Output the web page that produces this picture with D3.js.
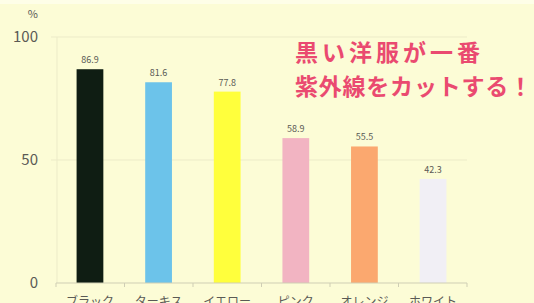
<!DOCTYPE html>
<html>
<head>
<meta charset="utf-8">
<script src="https://cdn.jsdelivr.net/npm/d3@7"></script>
<style>
  body { margin: 0; background: #fcfcd6; overflow: hidden; }
  text { font-family: "Noto Sans CJK JP", "Noto Sans", sans-serif; }
</style>
</head>
<body>
<div id="grafico"></div>
<script>
const ANCHO = 534;
const ALTO = 303;

const categorias = ["ブラック", "ターキス", "イエロー", "ピンク", "オレンジ", "ホワイト"];
const valores = [86.9, 81.6, 77.8, 58.9, 55.5, 42.3];
const etiquetas = ["86.9", "81.6", "77.8", "58.9", "55.5", "42.3"];
const colores = ["#0f1d13", "#6cc3ea", "#ffff3c", "#f2b4c2", "#fba86f", "#f1eff5"];
const ticksY = [0, 50, 100];
const mensaje = ["黒い洋服が一番", "紫外線をカットする！"];

const margen = { izq: 56, der: 67, arriba: 37, abajo: 20 };

const $svg = d3.select("#grafico")
    .append("svg")
    .attr("width", ANCHO)
    .attr("height", ALTO);

$svg.append("rect")
    .attr("width", ANCHO).attr("height", ALTO)
    .attr("fill", "#fcfcd6");
$svg.append("rect")
    .attr("width", ANCHO).attr("height", 4)
    .attr("fill", "#fefee8");

const x = d3.scaleBand()
    .domain(categorias)
    .range([margen.izq, ANCHO - margen.der])
    .paddingInner(0.61)
    .paddingOuter(0.3);

const y = d3.scaleLinear()
    .domain([0, 100])
    .range([283, margen.arriba]);

// lineas de cuadricula
$svg.append("g")
    .selectAll("line")
    .data(ticksY.filter(t => t > 0))
    .join("line")
    .attr("x1", 51)
    .attr("x2", ANCHO - margen.der)
    .attr("y1", d => y(d))
    .attr("y2", d => y(d))
    .attr("stroke", "#ecebc8")
    .attr("stroke-width", 1);

// eje vertical tenue
$svg.append("line")
    .attr("x1", 57).attr("x2", 57)
    .attr("y1", y(100)).attr("y2", y(0))
    .attr("stroke", "#ecebc8");

// etiquetas del eje y
$svg.append("g")
    .selectAll("text")
    .data(ticksY)
    .join("text")
    .attr("x", 38)
    .attr("y", d => y(d))
    .attr("dy", "0.35em")
    .attr("text-anchor", "end")
    .attr("font-size", 15)
    .attr("fill", "#5a5a55")
    .text(d => d);

$svg.append("text")
    .attr("x", 38)
    .attr("y", 18)
    .attr("text-anchor", "end")
    .attr("font-size", 11)
    .attr("fill", "#5a5a55")
    .text("%");

// barras
$svg.append("g")
    .selectAll("rect")
    .data(valores)
    .join("rect")
    .attr("x", (d, i) => x(categorias[i]))
    .attr("y", d => y(d))
    .attr("width", x.bandwidth())
    .attr("height", d => y(0) - y(d))
    .attr("fill", (d, i) => colores[i]);

// valores sobre las barras
$svg.append("g")
    .selectAll("text")
    .data(valores)
    .join("text")
    .attr("x", (d, i) => x(categorias[i]) + x.bandwidth() / 2)
    .attr("y", d => y(d) - 6)
    .attr("text-anchor", "middle")
    .attr("font-size", 9)
    .attr("fill", "#5a5a55")
    .text((d, i) => etiquetas[i]);

// eje x
const ejeX = $svg.append("g")
    .attr("transform", `translate(0,${y(0)})`);
ejeX.append("line")
    .attr("x1", margen.izq)
    .attr("x2", ANCHO - margen.der)
    .attr("stroke", "#cfceb4");
const paso = (ANCHO - margen.der - margen.izq) / categorias.length;
ejeX.selectAll("line.tick")
    .data(d3.range(categorias.length + 1))
    .join("line")
    .attr("class", "tick")
    .attr("x1", i => margen.izq + i * paso)
    .attr("x2", i => margen.izq + i * paso)
    .attr("y1", 0)
    .attr("y2", 4)
    .attr("stroke", "#cfceb4");
ejeX.selectAll("text")
    .data(categorias)
    .join("text")
    .attr("x", d => x(d) + x.bandwidth() / 2)
    .attr("y", 23)
    .attr("text-anchor", "middle")
    .attr("font-size", 12)
    .attr("fill", "#5a5a55")
    .text(d => d);

// mensaje
$svg.append("g")
    .selectAll("text")
    .data(mensaje)
    .join("text")
    .attr("x", 295)
    .attr("y", (d, i) => 61 + i * 34)
    .attr("font-size", 23)
    .attr("font-weight", "bold")
    .attr("fill", "#ea4a70")
    .attr("textLength", (d, i) => i === 0 ? 185 : 237)
    .attr("lengthAdjust", "spacing")
    .text(d => d);
</script>
</body>
</html>
